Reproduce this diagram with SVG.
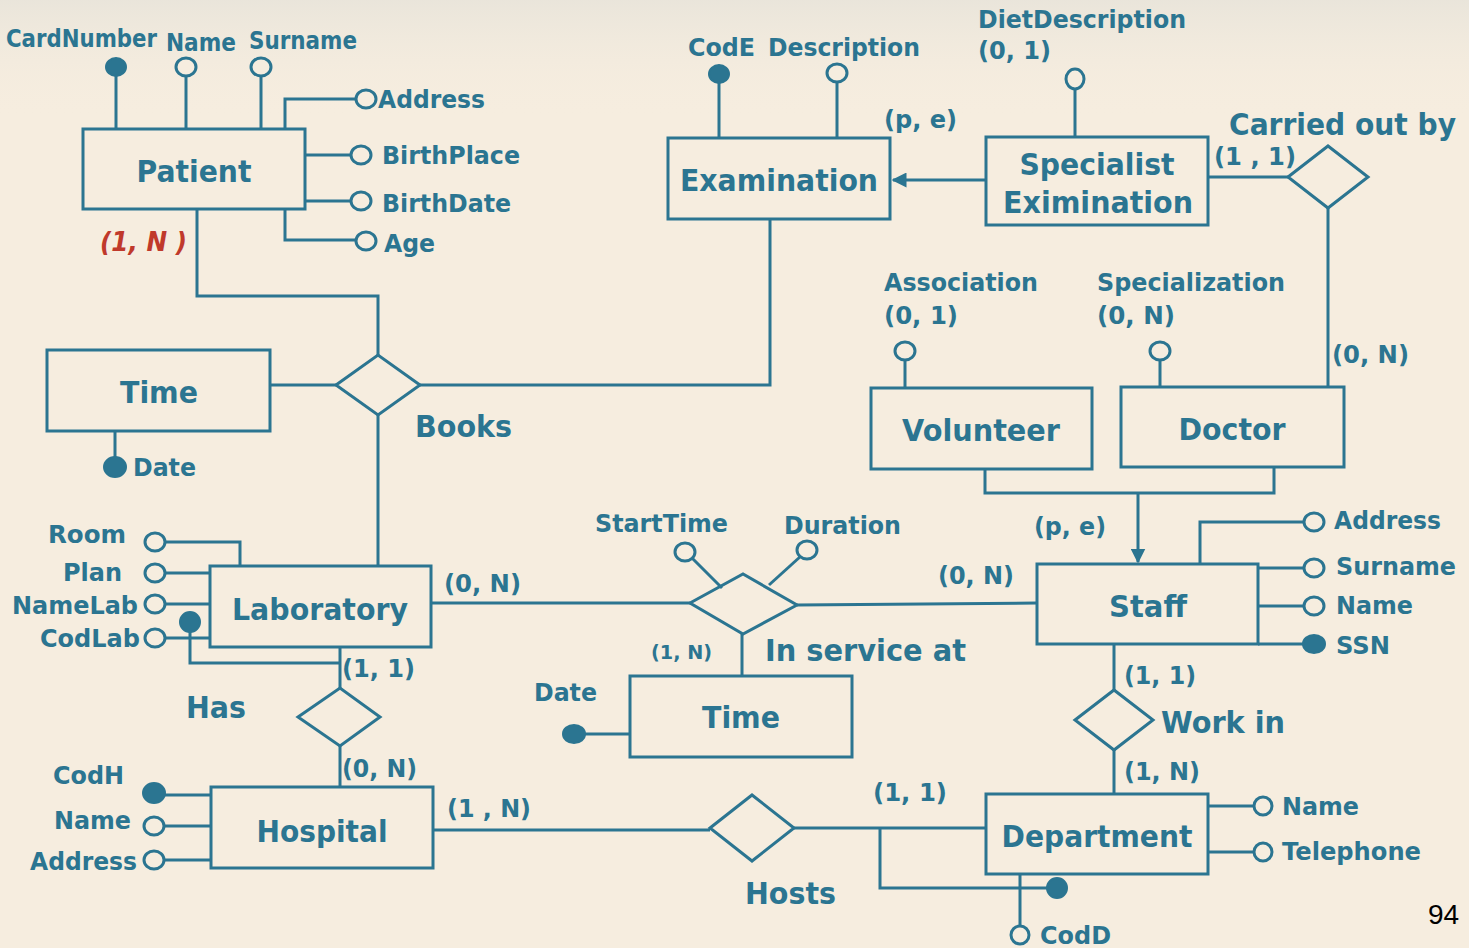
<svg xmlns="http://www.w3.org/2000/svg" width="1469" height="948" viewBox="0 0 1469 948">
<defs>
<style>
.bg{fill:#f6eddf}
.e{fill:none;stroke:#2b7591;stroke-width:3}
.ln{fill:none;stroke:#2b7591;stroke-width:3}
.oc{fill:#f6eddf;stroke:#2b7591;stroke-width:3}
.fc{fill:#2b7591;stroke:#2b7591;stroke-width:2}
text{font-family:"DejaVu Sans","Verdana",sans-serif;font-weight:bold;fill:#2b7591}
.s{font-size:24px}
.m{font-size:30px}
.r{fill:#c0392b;font-style:italic;font-size:26px}
.pg{font-family:"Liberation Sans",Arial,sans-serif;font-weight:normal;fill:#000;font-size:28px}
</style>
<marker id="arr" viewBox="0 0 10 10" refX="9" refY="5" markerWidth="5" markerHeight="5" orient="auto">
<path d="M0,0 L10,5 L0,10 z" fill="#2b7591"/>
</marker>
<linearGradient id="tex" x1="0" y1="0" x2="0" y2="1">
<stop offset="0" stop-color="#e8e4da" stop-opacity="0.9"/>
<stop offset="1" stop-color="#f6eddf" stop-opacity="0"/>
</linearGradient>
</defs>
<rect class="bg" x="0" y="0" width="1469" height="948"/>
<rect x="0" y="0" width="1469" height="120" fill="url(#tex)"/>

<g id="connectors">
<polyline class="ln" points="197,209 197,296 378,296 378,355"/>
<line class="ln" x1="270" y1="385" x2="336" y2="385"/>
<polyline class="ln" points="420,385 770,385 770,220"/>
<line class="ln" x1="378" y1="415" x2="378" y2="566"/>
<line class="ln" x1="986" y1="180" x2="893" y2="180" marker-end="url(#arr)"/>
<line class="ln" x1="1208" y1="177" x2="1288" y2="177"/>
<line class="ln" x1="1328" y1="208" x2="1328" y2="387"/>
<polyline class="ln" points="985,469 985,493 1274,493 1274,467"/>
<line class="ln" x1="1138" y1="493" x2="1138" y2="562" marker-end="url(#arr)"/>
<line class="ln" x1="431" y1="603" x2="690" y2="603"/>
<line class="ln" x1="797" y1="605" x2="1037" y2="603"/>
<line class="ln" x1="742" y1="634" x2="742" y2="676"/>
<line class="ln" x1="1114" y1="644" x2="1114" y2="690"/>
<line class="ln" x1="1114" y1="750" x2="1114" y2="794"/>
<line class="ln" x1="340" y1="647" x2="340" y2="688"/>
<line class="ln" x1="340" y1="746" x2="340" y2="787"/>
<line class="ln" x1="433" y1="830" x2="710" y2="830"/>
<line class="ln" x1="794" y1="828" x2="986" y2="828"/>
</g>

<g id="patient">
<rect class="e" x="83" y="129" width="222" height="80"/>
<text class="m" x="194" y="182" text-anchor="middle" textLength="115" lengthAdjust="spacingAndGlyphs">Patient</text>
<line class="ln" x1="116" y1="67" x2="116" y2="129"/>
<line class="ln" x1="186" y1="67" x2="186" y2="129"/>
<line class="ln" x1="261" y1="67" x2="261" y2="129"/>
<ellipse class="fc" cx="116" cy="67" rx="10" ry="9"/>
<ellipse class="oc" cx="186" cy="67" rx="10" ry="9"/>
<ellipse class="oc" cx="261" cy="67" rx="10" ry="9"/>
<text class="s" x="6" y="47" textLength="151" lengthAdjust="spacingAndGlyphs">CardNumber</text>
<text class="s" x="166" y="51" textLength="70" lengthAdjust="spacingAndGlyphs">Name</text>
<text class="s" x="249" y="49" textLength="108" lengthAdjust="spacingAndGlyphs">Surname</text>
<polyline class="ln" points="285,129 285,99 356,99"/>
<ellipse class="oc" cx="366" cy="99" rx="10" ry="9"/>
<text class="s" x="378" y="108" textLength="107" lengthAdjust="spacingAndGlyphs">Address</text>
<line class="ln" x1="305" y1="155" x2="351" y2="155"/>
<ellipse class="oc" cx="361" cy="155" rx="10" ry="9"/>
<text class="s" x="382" y="164" textLength="138" lengthAdjust="spacingAndGlyphs">BirthPlace</text>
<line class="ln" x1="305" y1="201" x2="351" y2="201"/>
<ellipse class="oc" cx="361" cy="201" rx="10" ry="9"/>
<text class="s" x="382" y="212" textLength="129" lengthAdjust="spacingAndGlyphs">BirthDate</text>
<polyline class="ln" points="285,209 285,240 356,240"/>
<ellipse class="oc" cx="366" cy="241" rx="10" ry="9"/>
<text class="s" x="384" y="252" textLength="51" lengthAdjust="spacingAndGlyphs">Age</text>
<text class="r" x="100" y="251" textLength="87" lengthAdjust="spacingAndGlyphs">(1, N )</text>
</g>

<g id="examination">
<rect class="e" x="668" y="138" width="222" height="81"/>
<text class="m" x="779" y="191" text-anchor="middle" textLength="198" lengthAdjust="spacingAndGlyphs">Examination</text>
<line class="ln" x1="719" y1="74" x2="719" y2="138"/>
<line class="ln" x1="837" y1="73" x2="837" y2="138"/>
<ellipse class="fc" cx="719" cy="74" rx="10" ry="9"/>
<ellipse class="oc" cx="837" cy="73" rx="10" ry="9"/>
<text class="s" x="688" y="56" textLength="67" lengthAdjust="spacingAndGlyphs">CodE</text>
<text class="s" x="768" y="56" textLength="152" lengthAdjust="spacingAndGlyphs">Description</text>
<text class="s" x="884" y="128" textLength="73" lengthAdjust="spacingAndGlyphs">(p, e)</text>
</g>

<g id="specialist">
<rect class="e" x="986" y="137" width="222" height="88"/>
<text class="m" x="1097" y="175" text-anchor="middle" textLength="155" lengthAdjust="spacingAndGlyphs">Specialist</text>
<text class="m" x="1098" y="213" text-anchor="middle" textLength="190" lengthAdjust="spacingAndGlyphs">Eximination</text>
<line class="ln" x1="1075" y1="79" x2="1075" y2="137"/>
<ellipse class="oc" cx="1075" cy="79" rx="9" ry="10"/>
<text class="s" x="978" y="28" textLength="208" lengthAdjust="spacingAndGlyphs">DietDescription</text>
<text class="s" x="978" y="59" textLength="73" lengthAdjust="spacingAndGlyphs">(0, 1)</text>
</g>

<g id="carried-out-by">
<polygon class="e" points="1288,177 1328,146 1368,177 1328,208"/>
<text class="m" x="1229" y="135" textLength="227" lengthAdjust="spacingAndGlyphs">Carried out by</text>
<text class="s" x="1214" y="165" textLength="82" lengthAdjust="spacingAndGlyphs">(1 , 1)</text>
<text class="s" x="1332" y="363" textLength="77" lengthAdjust="spacingAndGlyphs">(0, N)</text>
</g>

<g id="time1">
<rect class="e" x="47" y="350" width="223" height="81"/>
<text class="m" x="159" y="403" text-anchor="middle" textLength="78" lengthAdjust="spacingAndGlyphs">Time</text>
<line class="ln" x1="115" y1="431" x2="115" y2="467"/>
<ellipse class="fc" cx="115" cy="467" rx="11" ry="10"/>
<text class="s" x="133" y="476" textLength="63" lengthAdjust="spacingAndGlyphs">Date</text>
</g>

<g id="books">
<polygon class="e" points="336,385 378,355 420,385 378,415"/>
<text class="m" x="415" y="437" textLength="97" lengthAdjust="spacingAndGlyphs">Books</text>
</g>

<g id="volunteer">
<rect class="e" x="871" y="388" width="221" height="81"/>
<text class="m" x="981" y="441" text-anchor="middle" textLength="158" lengthAdjust="spacingAndGlyphs">Volunteer</text>
<line class="ln" x1="905" y1="351" x2="905" y2="388"/>
<ellipse class="oc" cx="905" cy="351" rx="10" ry="9"/>
<text class="s" x="884" y="291" textLength="154" lengthAdjust="spacingAndGlyphs">Association</text>
<text class="s" x="884" y="324" textLength="74" lengthAdjust="spacingAndGlyphs">(0, 1)</text>
</g>

<g id="doctor">
<rect class="e" x="1121" y="387" width="223" height="80"/>
<text class="m" x="1232" y="440" text-anchor="middle" textLength="107" lengthAdjust="spacingAndGlyphs">Doctor</text>
<line class="ln" x1="1160" y1="351" x2="1160" y2="387"/>
<ellipse class="oc" cx="1160" cy="351" rx="10" ry="9"/>
<text class="s" x="1097" y="291" textLength="188" lengthAdjust="spacingAndGlyphs">Specialization</text>
<text class="s" x="1097" y="324" textLength="78" lengthAdjust="spacingAndGlyphs">(0, N)</text>
<text class="s" x="1034" y="535" textLength="72" lengthAdjust="spacingAndGlyphs">(p, e)</text>
</g>

<g id="staff">
<rect class="e" x="1037" y="564" width="221" height="80"/>
<text class="m" x="1148" y="617" text-anchor="middle" textLength="78" lengthAdjust="spacingAndGlyphs">Staff</text>
<polyline class="ln" points="1200,564 1200,522 1304,522"/>
<ellipse class="oc" cx="1314" cy="522" rx="10" ry="9"/>
<text class="s" x="1334" y="529" textLength="107" lengthAdjust="spacingAndGlyphs">Address</text>
<line class="ln" x1="1258" y1="568" x2="1304" y2="568"/>
<ellipse class="oc" cx="1314" cy="568" rx="10" ry="9"/>
<text class="s" x="1336" y="575" textLength="120" lengthAdjust="spacingAndGlyphs">Surname</text>
<line class="ln" x1="1258" y1="606" x2="1304" y2="606"/>
<ellipse class="oc" cx="1314" cy="606" rx="10" ry="9"/>
<text class="s" x="1336" y="614" textLength="77" lengthAdjust="spacingAndGlyphs">Name</text>
<line class="ln" x1="1258" y1="644" x2="1304" y2="644"/>
<ellipse class="fc" cx="1314" cy="644" rx="11" ry="9"/>
<text class="s" x="1336" y="654" textLength="54" lengthAdjust="spacingAndGlyphs">SSN</text>
<text class="s" x="938" y="584" textLength="76" lengthAdjust="spacingAndGlyphs">(0, N)</text>
</g>

<g id="in-service-at">
<polygon class="e" points="690,603 743,574 797,605 743,634"/>
<line class="ln" x1="692" y1="558" x2="722" y2="588"/>
<line class="ln" x1="801" y1="556" x2="769" y2="585"/>
<ellipse class="oc" cx="685" cy="552" rx="10" ry="9"/>
<ellipse class="oc" cx="807" cy="550" rx="10" ry="9"/>
<text class="s" x="595" y="532" textLength="133" lengthAdjust="spacingAndGlyphs">StartTime</text>
<text class="s" x="784" y="534" textLength="117" lengthAdjust="spacingAndGlyphs">Duration</text>
<text class="m" x="765" y="661" textLength="201" lengthAdjust="spacingAndGlyphs">In service at</text>
<text x="651" y="659" style="font-size:19px" textLength="61" lengthAdjust="spacingAndGlyphs">(1, N)</text>
</g>

<g id="time2">
<rect class="e" x="630" y="676" width="222" height="81"/>
<text class="m" x="741" y="728" text-anchor="middle" textLength="78" lengthAdjust="spacingAndGlyphs">Time</text>
<line class="ln" x1="574" y1="734" x2="630" y2="734"/>
<ellipse class="fc" cx="574" cy="734" rx="11" ry="9"/>
<text class="s" x="534" y="701" textLength="63" lengthAdjust="spacingAndGlyphs">Date</text>
</g>

<g id="work-in">
<polygon class="e" points="1075,720 1114,690 1153,720 1114,750"/>
<text class="m" x="1161" y="733" textLength="124" lengthAdjust="spacingAndGlyphs">Work in</text>
<text class="s" x="1124" y="684" textLength="72" lengthAdjust="spacingAndGlyphs">(1, 1)</text>
<text class="s" x="1124" y="780" textLength="76" lengthAdjust="spacingAndGlyphs">(1, N)</text>
</g>

<g id="laboratory">
<rect class="e" x="210" y="566" width="221" height="81"/>
<text class="m" x="320" y="620" text-anchor="middle" textLength="176" lengthAdjust="spacingAndGlyphs">Laboratory</text>
<polyline class="ln" points="165,542 240,542 240,566"/>
<ellipse class="oc" cx="155" cy="542" rx="10" ry="9"/>
<text class="s" x="48" y="543" textLength="78" lengthAdjust="spacingAndGlyphs">Room</text>
<line class="ln" x1="165" y1="573" x2="210" y2="573"/>
<ellipse class="oc" cx="155" cy="573" rx="10" ry="9"/>
<text class="s" x="63" y="581" textLength="59" lengthAdjust="spacingAndGlyphs">Plan</text>
<line class="ln" x1="165" y1="604" x2="210" y2="604"/>
<ellipse class="oc" cx="155" cy="604" rx="10" ry="9"/>
<text class="s" x="12" y="614" textLength="126" lengthAdjust="spacingAndGlyphs">NameLab</text>
<line class="ln" x1="165" y1="638" x2="210" y2="638"/>
<ellipse class="oc" cx="155" cy="638" rx="10" ry="9"/>
<text class="s" x="40" y="647" textLength="100" lengthAdjust="spacingAndGlyphs">CodLab</text>
<polyline class="ln" points="190,622 190,663 340,663"/>
<ellipse class="fc" cx="190" cy="622" rx="10" ry="10"/>
<text class="s" x="444" y="592" textLength="77" lengthAdjust="spacingAndGlyphs">(0, N)</text>
</g>

<g id="has">
<polygon class="e" points="298,717 340,688 380,717 340,746"/>
<text class="m" x="186" y="718" textLength="60" lengthAdjust="spacingAndGlyphs">Has</text>
<text class="s" x="342" y="677" textLength="73" lengthAdjust="spacingAndGlyphs">(1, 1)</text>
<text class="s" x="342" y="777" textLength="75" lengthAdjust="spacingAndGlyphs">(0, N)</text>
</g>

<g id="hospital">
<rect class="e" x="211" y="787" width="222" height="81"/>
<text class="m" x="322" y="842" text-anchor="middle" textLength="131" lengthAdjust="spacingAndGlyphs">Hospital</text>
<line class="ln" x1="154" y1="795" x2="211" y2="795"/>
<ellipse class="fc" cx="154" cy="793" rx="11" ry="10"/>
<text class="s" x="53" y="784" textLength="71" lengthAdjust="spacingAndGlyphs">CodH</text>
<line class="ln" x1="164" y1="826" x2="211" y2="826"/>
<ellipse class="oc" cx="154" cy="826" rx="10" ry="9"/>
<text class="s" x="54" y="829" textLength="77" lengthAdjust="spacingAndGlyphs">Name</text>
<line class="ln" x1="164" y1="860" x2="211" y2="860"/>
<ellipse class="oc" cx="154" cy="860" rx="10" ry="9"/>
<text class="s" x="30" y="870" textLength="107" lengthAdjust="spacingAndGlyphs">Address</text>
<text class="s" x="447" y="817" textLength="84" lengthAdjust="spacingAndGlyphs">(1 , N)</text>
</g>

<g id="hosts">
<polygon class="e" points="710,828 752,795 794,828 752,861"/>
<text class="m" x="745" y="904" textLength="91" lengthAdjust="spacingAndGlyphs">Hosts</text>
<text class="s" x="873" y="801" textLength="74" lengthAdjust="spacingAndGlyphs">(1, 1)</text>
</g>

<g id="department">
<rect class="e" x="986" y="794" width="222" height="80"/>
<text class="m" x="1097" y="847" text-anchor="middle" textLength="191" lengthAdjust="spacingAndGlyphs">Department</text>
<line class="ln" x1="1208" y1="806" x2="1253" y2="806"/>
<ellipse class="oc" cx="1263" cy="806" rx="9" ry="9"/>
<text class="s" x="1282" y="815" textLength="77" lengthAdjust="spacingAndGlyphs">Name</text>
<line class="ln" x1="1208" y1="852" x2="1253" y2="852"/>
<ellipse class="oc" cx="1263" cy="852" rx="9" ry="9"/>
<text class="s" x="1282" y="860" textLength="139" lengthAdjust="spacingAndGlyphs">Telephone</text>
<polyline class="ln" points="880,828 880,888 1050,888"/>
<ellipse class="fc" cx="1057" cy="888" rx="10" ry="10"/>
<line class="ln" x1="1020" y1="874" x2="1020" y2="926"/>
<ellipse class="oc" cx="1020" cy="935" rx="9" ry="9"/>
<text class="s" x="1040" y="944" textLength="71" lengthAdjust="spacingAndGlyphs">CodD</text>
</g>

<text class="pg" x="1428" y="924">94</text>
</svg>
